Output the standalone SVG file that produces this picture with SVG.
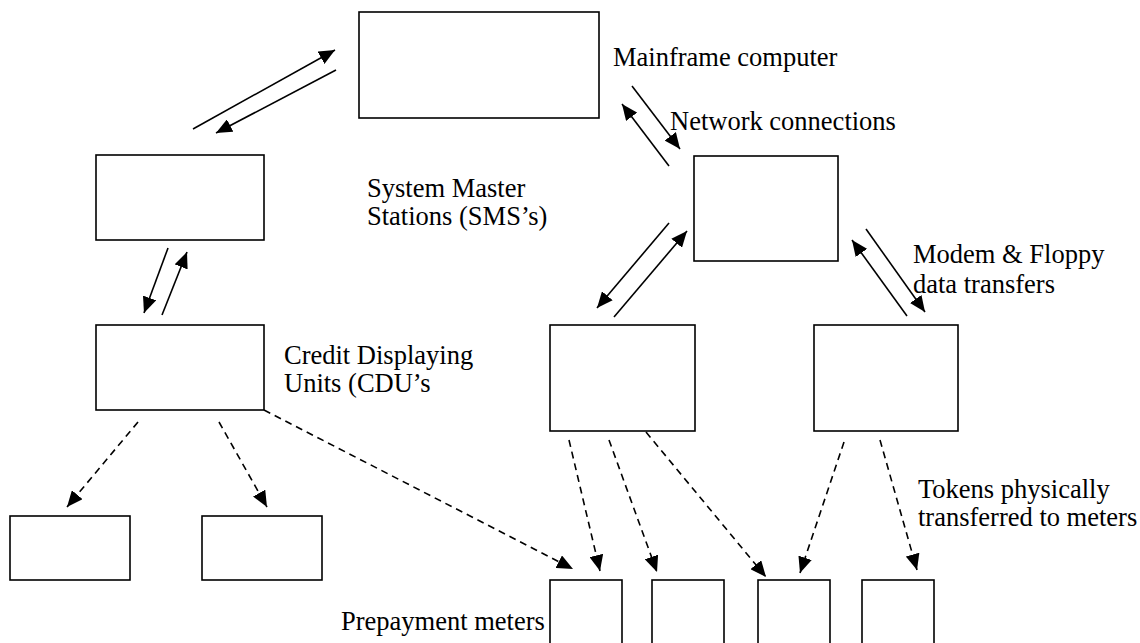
<svg xmlns="http://www.w3.org/2000/svg" width="1140" height="643" viewBox="0 0 1140 643">
  <style>
    .box { fill: #ffffff; stroke: #000000; stroke-width: 1.6; }
    .lbl { font-family: "Liberation Serif", "Times New Roman", serif; font-size: 26.5px; fill: #000000; }
    .solid { fill: none; stroke: #000000; stroke-width: 1.6; marker-end: url(#head); }
    .dash { fill: none; stroke: #000000; stroke-width: 1.6; stroke-dasharray: 7 5; marker-end: url(#head); }
  </style>
  <defs>
    <marker id="head" markerUnits="userSpaceOnUse" markerWidth="17" markerHeight="14" refX="16" refY="7" orient="auto">
      <path d="M0,0 L16,7 L0,14 z" fill="#000000"/>
    </marker>
  </defs>
  <rect width="1140" height="643" fill="#ffffff"/>

  <!-- top level: mainframe -->
  <g id="mainframe">
    <rect class="box" x="359" y="12" width="240" height="106"/>
    <text class="lbl" x="613" y="66">Mainframe computer</text>
  </g>

  <!-- system master station -->
  <g id="sms">
    <rect class="box" x="96" y="155" width="168" height="85"/>
    <text class="lbl" x="367" y="197">System Master</text>
    <text class="lbl" x="367" y="225">Stations (SMS’s)</text>
  </g>

  <!-- credit displaying unit -->
  <g id="cdu">
    <rect class="box" x="96" y="325" width="168" height="85"/>
    <text class="lbl" x="284" y="364">Credit Displaying</text>
    <text class="lbl" x="284" y="392">Units (CDU’s</text>
  </g>

  <!-- network hub -->
  <g id="network">
    <rect class="box" x="694" y="156" width="144" height="105"/>
    <text class="lbl" x="670" y="130">Network connections</text>
  </g>

  <!-- second-tier stations on the network -->
  <g id="station-a">
    <rect class="box" x="550" y="325" width="145" height="106"/>
  </g>
  <g id="station-b">
    <rect class="box" x="814" y="325" width="144" height="106"/>
    <text class="lbl" x="913" y="263">Modem &amp; Floppy</text>
    <text class="lbl" x="913" y="293">data transfers</text>
  </g>

  <!-- units fed by the CDU -->
  <g id="unit-1">
    <rect class="box" x="10" y="516" width="120" height="64"/>
  </g>
  <g id="unit-2">
    <rect class="box" x="202" y="516" width="120" height="64"/>
  </g>

  <!-- prepayment meters -->
  <g id="meter-1">
    <rect class="box" x="550" y="580" width="72" height="72"/>
    <text class="lbl" x="341" y="630">Prepayment meters</text>
  </g>
  <g id="meter-2">
    <rect class="box" x="652" y="580" width="72" height="72"/>
  </g>
  <g id="meter-3">
    <rect class="box" x="758" y="580" width="72" height="72"/>
  </g>
  <g id="meter-4">
    <rect class="box" x="862" y="580" width="72" height="72"/>
  </g>

  <g id="token-note">
    <text class="lbl" x="918" y="498">Tokens physically</text>
    <text class="lbl" x="918" y="526">transferred to meters</text>
  </g>

  <!-- connectors -->
  <g id="connectors">
    <!-- two-way links -->
    <line class="solid" x1="193" y1="129" x2="335" y2="50"/>
    <line class="solid" x1="336" y1="70" x2="216" y2="133"/>
    <line class="solid" x1="632" y1="86" x2="680" y2="149"/>
    <line class="solid" x1="669" y1="166" x2="622" y2="104"/>
    <line class="solid" x1="168" y1="248" x2="144" y2="313"/>
    <line class="solid" x1="162" y1="315" x2="187" y2="252"/>
    <line class="solid" x1="669" y1="223" x2="597" y2="308"/>
    <line class="solid" x1="614" y1="317" x2="687" y2="231"/>
    <line class="solid" x1="866" y1="229" x2="925" y2="312"/>
    <line class="solid" x1="907" y1="316" x2="852" y2="240"/>
    <!-- token transfers -->
    <line class="dash" x1="138" y1="422" x2="67" y2="507"/>
    <line class="dash" x1="219" y1="422" x2="267" y2="507"/>
    <line class="dash" x1="264" y1="410" x2="573" y2="569"/>
    <line class="dash" x1="569" y1="440" x2="600" y2="571"/>
    <line class="dash" x1="609" y1="440" x2="657" y2="572"/>
    <line class="dash" x1="646" y1="432" x2="766" y2="577"/>
    <line class="dash" x1="844" y1="442" x2="800" y2="573"/>
    <line class="dash" x1="880" y1="440" x2="917" y2="570"/>
  </g>
</svg>
